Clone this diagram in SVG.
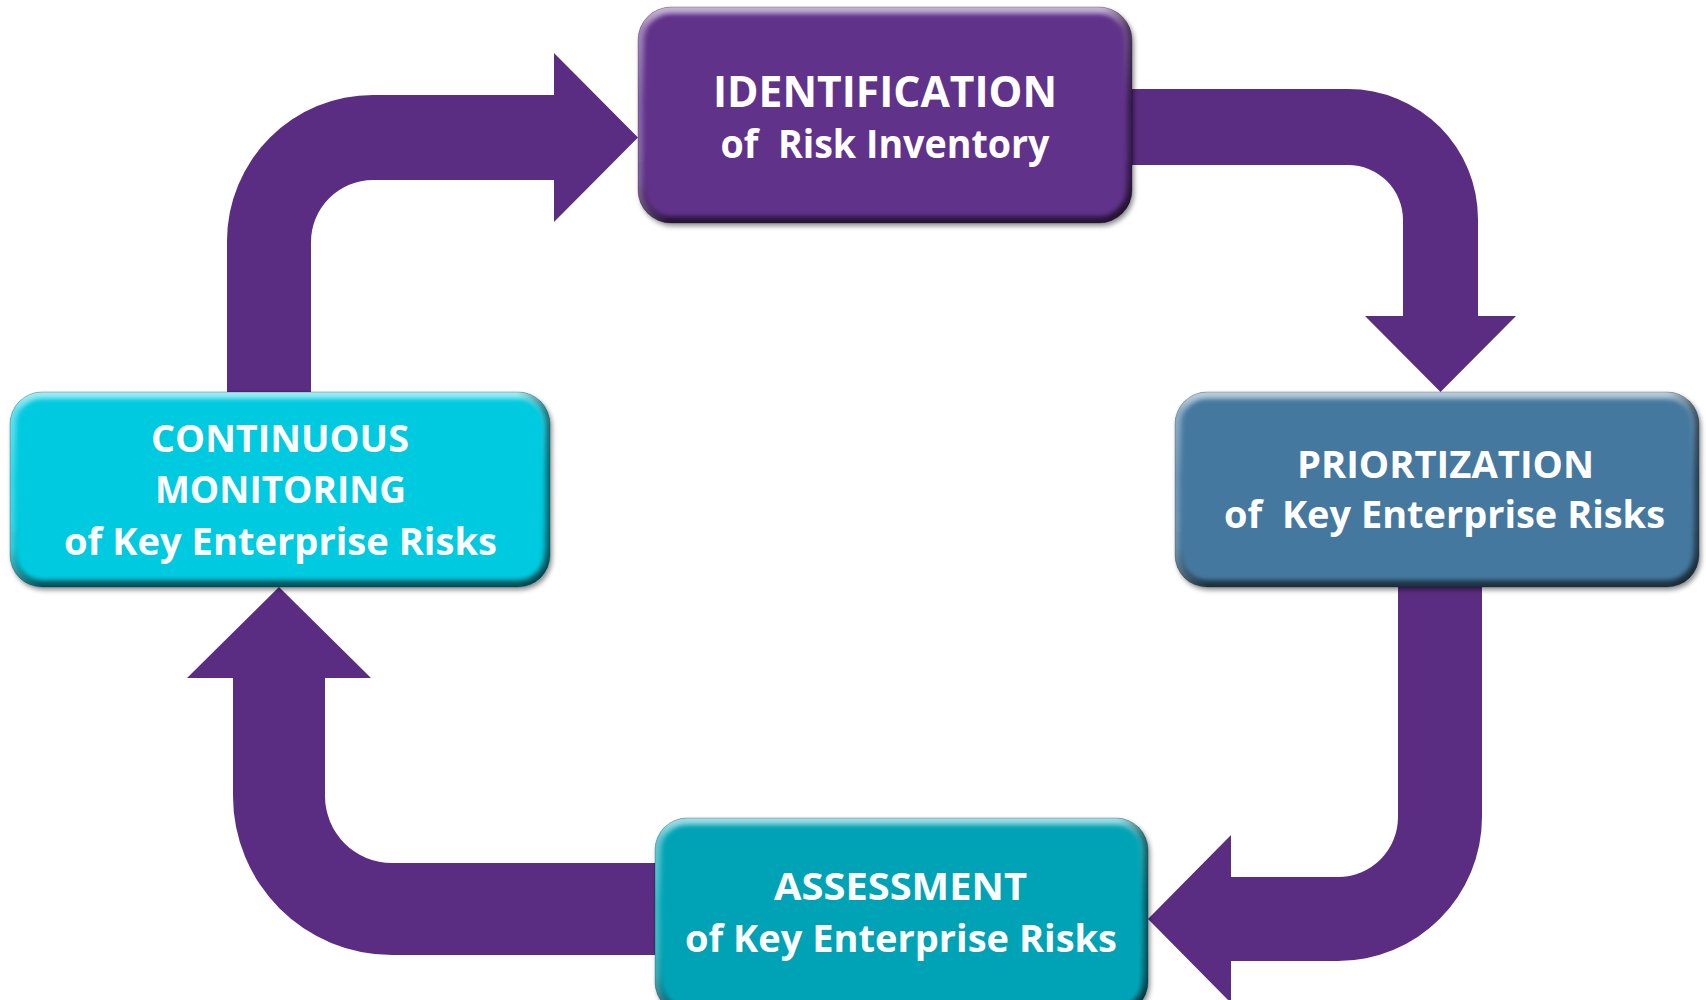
<svg xmlns="http://www.w3.org/2000/svg" width="1706" height="1000" viewBox="0 0 1706 1000">
  <style>
    .arrow { fill: #5A2D82; }
    .edge { fill: none; stroke: #000; stroke-opacity: 0.22; stroke-width: 1; }
    .bevel-v { fill: none; stroke: url(#bevelV); stroke-width: 14; }
    .bevel-h { fill: none; stroke: url(#bevelH); stroke-width: 10; }
    .label { font-family: "Open Sans", "Noto Sans", "Liberation Sans", sans-serif; font-weight: 700; fill: #ffffff; text-anchor: middle; white-space: pre; }
    .big { font-size: 43px; }
    .sub { font-size: 39px; }
    .std { font-size: 38px; }
  </style>
  <defs>
    <filter id="shadow" x="-5%" y="-10%" width="112%" height="125%">
      <feDropShadow dx="2" dy="3" stdDeviation="2.5" flood-color="#000" flood-opacity="0.45"/>
    </filter>
    <filter id="soft" x="-5%" y="-10%" width="110%" height="120%">
      <feGaussianBlur stdDeviation="2.2"/>
    </filter>
    <linearGradient id="bevelV" x1="0" y1="0" x2="0" y2="1">
      <stop offset="0" stop-color="#ffffff" stop-opacity="0.65"/>
      <stop offset="0.1" stop-color="#ffffff" stop-opacity="0.22"/>
      <stop offset="0.45" stop-color="#ffffff" stop-opacity="0"/>
      <stop offset="0.8" stop-color="#000000" stop-opacity="0.08"/>
      <stop offset="1" stop-color="#000000" stop-opacity="0.6"/>
    </linearGradient>
    <linearGradient id="bevelH" x1="0" y1="0" x2="1" y2="0">
      <stop offset="0" stop-color="#ffffff" stop-opacity="0.25"/>
      <stop offset="0.06" stop-color="#ffffff" stop-opacity="0"/>
      <stop offset="0.94" stop-color="#000000" stop-opacity="0"/>
      <stop offset="1" stop-color="#000000" stop-opacity="0.45"/>
    </linearGradient>
    <clipPath id="clipIdent"><rect x="638" y="7" width="494" height="216" rx="33"/></clipPath>
    <clipPath id="clipPrior"><rect x="1175" y="392" width="524" height="195" rx="32"/></clipPath>
    <clipPath id="clipAssess"><rect x="655" y="818" width="493" height="196" rx="32"/></clipPath>
    <clipPath id="clipMonitor"><rect x="10" y="392" width="540" height="195" rx="32"/></clipPath>
  </defs>

  <rect width="1706" height="1000" fill="#ffffff"/>

  <!-- bent block arrows linking the four stages -->
  <g id="connectors">
    <!-- identification -> priortization -->
    <path class="arrow" d="M 1125 89 L 1348 89 A 130 130 0 0 1 1478 219 L 1478 316 L 1516 316 L 1440.5 392 L 1365 316 L 1403 316 L 1403 220 A 55 55 0 0 0 1348 165 L 1125 165 Z"/>
    <!-- priortization -> assessment -->
    <path class="arrow" d="M 1398 580 L 1482 580 L 1482 817 A 144 144 0 0 1 1338 961 L 1231 961 L 1231 1003 L 1148 919 L 1231 835 L 1231 877 L 1338 877 A 60 60 0 0 0 1398 817 Z"/>
    <!-- assessment -> continuous monitoring -->
    <path class="arrow" d="M 662 955 L 392 955 A 159 159 0 0 1 233 796 L 233 678 L 187 678 L 279 587 L 371 678 L 325 678 L 325 796 A 67 67 0 0 0 392 863 L 662 863 Z"/>
    <!-- continuous monitoring -> identification -->
    <path class="arrow" d="M 227 400 L 227 241 A 146 146 0 0 1 373 95 L 554 95 L 554 53 L 638 137.5 L 554 222 L 554 180 L 373 180 A 62 62 0 0 0 311 242 L 311 400 Z"/>
  </g>

  <g id="identification">
    <rect x="638" y="7" width="494" height="216" rx="33" fill="#61338A" filter="url(#shadow)"/>
    <g clip-path="url(#clipIdent)">
      <rect class="bevel-v" x="638" y="7" width="494" height="216" rx="33" filter="url(#soft)"/>
      <rect class="bevel-h" x="638" y="7" width="494" height="216" rx="33" filter="url(#soft)"/>
    </g>
    <rect class="edge" x="638" y="7" width="494" height="216" rx="33"/>
    <text class="label big" x="885" y="107" textLength="344" lengthAdjust="spacingAndGlyphs">IDENTIFICATION</text>
    <text class="label sub" x="885" y="158" textLength="329" lengthAdjust="spacingAndGlyphs" xml:space="preserve">of  Risk Inventory</text>
  </g>

  <g id="priortization">
    <rect x="1175" y="392" width="524" height="195" rx="32" fill="#44789F" filter="url(#shadow)"/>
    <g clip-path="url(#clipPrior)">
      <rect class="bevel-v" x="1175" y="392" width="524" height="195" rx="32" filter="url(#soft)"/>
      <rect class="bevel-h" x="1175" y="392" width="524" height="195" rx="32" filter="url(#soft)"/>
    </g>
    <rect class="edge" x="1175" y="392" width="524" height="195" rx="32"/>
    <text class="label std" x="1445.5" y="478" textLength="297" lengthAdjust="spacingAndGlyphs">PRIORTIZATION</text>
    <text class="label std" x="1444.5" y="528" textLength="441" lengthAdjust="spacingAndGlyphs" xml:space="preserve">of  Key Enterprise Risks</text>
  </g>

  <g id="assessment">
    <rect x="655" y="818" width="493" height="196" rx="32" fill="#06A3B5" filter="url(#shadow)"/>
    <g clip-path="url(#clipAssess)">
      <rect class="bevel-v" x="655" y="818" width="493" height="196" rx="32" filter="url(#soft)"/>
      <rect class="bevel-h" x="655" y="818" width="493" height="196" rx="32" filter="url(#soft)"/>
    </g>
    <rect class="edge" x="655" y="818" width="493" height="196" rx="32"/>
    <text class="label std" x="900.5" y="900" textLength="253" lengthAdjust="spacingAndGlyphs">ASSESSMENT</text>
    <text class="label std" x="901" y="952" textLength="432" lengthAdjust="spacingAndGlyphs">of Key Enterprise Risks</text>
  </g>

  <g id="continuous-monitoring">
    <rect x="10" y="392" width="540" height="195" rx="32" fill="#06CADF" filter="url(#shadow)"/>
    <g clip-path="url(#clipMonitor)">
      <rect class="bevel-v" x="10" y="392" width="540" height="195" rx="32" filter="url(#soft)"/>
      <rect class="bevel-h" x="10" y="392" width="540" height="195" rx="32" filter="url(#soft)"/>
    </g>
    <rect class="edge" x="10" y="392" width="540" height="195" rx="32"/>
    <text class="label std" x="280" y="452" textLength="258" lengthAdjust="spacingAndGlyphs">CONTINUOUS</text>
    <text class="label std" x="280.5" y="503" textLength="251" lengthAdjust="spacingAndGlyphs">MONITORING</text>
    <text class="label std" x="280.5" y="555" textLength="433" lengthAdjust="spacingAndGlyphs">of Key Enterprise Risks</text>
  </g>
</svg>
